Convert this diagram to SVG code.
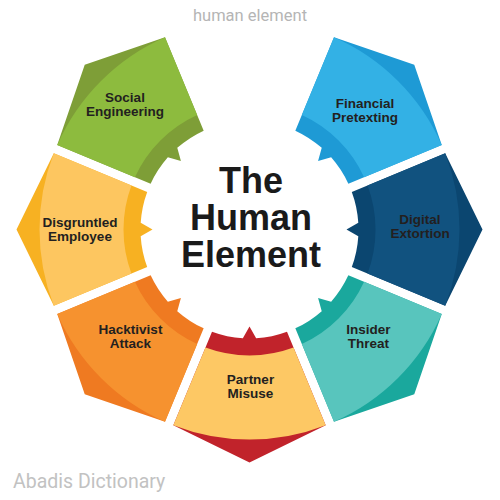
<svg xmlns="http://www.w3.org/2000/svg" xmlns:xlink="http://www.w3.org/1999/xlink" width="500" height="500" viewBox="0 0 500 500">
  <style>
    .lbl { font-family: "Liberation Sans", Arial, sans-serif; font-weight: bold; font-size: 13.5px; fill: #231f20; text-anchor: middle; }
    .title { font-family: "Liberation Sans", Arial, sans-serif; font-weight: bold; font-size: 36px; fill: #1a1a1a; text-anchor: middle; }
    .wm { font-family: Roboto, "Liberation Sans", sans-serif; }
  </style>
  <defs>
    <path id="seg" d="M 102.3,-37.5 L 195.7,-76.2 L 233,0 L 195.7,76.2 L 102.3,37.5 A 109 109 0 0 0 108.8,6.65 L 97,0 L 108.8,-6.65 A 109 109 0 0 0 102.3,-37.5 Z"/>
    <path id="segL" d="M 118.06,-44.03 L 195.7,-76.2 A 210 210 0 0 1 195.7,76.2 L 118.06,44.03 A 126 126 0 0 0 118.06,-44.03 Z"/>
  </defs>
  <rect width="500" height="500" fill="#ffffff"/>
  <text class="wm" x="250" y="21" font-size="16.5" fill="#b5b5b5" text-anchor="middle">human element</text>

  <g id="digital-extortion">
    <g transform="translate(249.5,229.5) rotate(0)">
      <use xlink:href="#seg" fill="#0b4670"/>
      <use xlink:href="#segL" fill="#11527f"/>
    </g>
    <text class="lbl" x="420" y="224">Digital</text>
    <text class="lbl" x="420" y="238">Extortion</text>
  </g>

  <g id="insider-threat">
    <g transform="translate(249.5,229.5) rotate(45)">
      <use xlink:href="#seg" fill="#1aa89d"/>
      <use xlink:href="#segL" fill="#58c5bd"/>
    </g>
    <text class="lbl" x="368.5" y="334">Insider</text>
    <text class="lbl" x="368.5" y="348">Threat</text>
  </g>

  <g id="partner-misuse">
    <g transform="translate(249.5,229.5) rotate(90)">
      <use xlink:href="#seg" fill="#c1232b"/>
      <use xlink:href="#segL" fill="#fdc864"/>
    </g>
    <text class="lbl" x="250.5" y="384">Partner</text>
    <text class="lbl" x="250.5" y="398">Misuse</text>
  </g>

  <g id="hacktivist-attack">
    <g transform="translate(249.5,229.5) rotate(135)">
      <use xlink:href="#seg" fill="#ef7a21"/>
      <use xlink:href="#segL" fill="#f6922f"/>
    </g>
    <text class="lbl" x="130.5" y="334">Hacktivist</text>
    <text class="lbl" x="130.5" y="348">Attack</text>
  </g>

  <g id="disgruntled-employee">
    <g transform="translate(249.5,229.5) rotate(180)">
      <use xlink:href="#seg" fill="#f7b122"/>
      <use xlink:href="#segL" fill="#fdc660"/>
    </g>
    <text class="lbl" x="80" y="227">Disgruntled</text>
    <text class="lbl" x="80" y="241">Employee</text>
  </g>

  <g id="social-engineering">
    <g transform="translate(249.5,229.5) rotate(225)">
      <use xlink:href="#seg" fill="#7e9e37"/>
      <use xlink:href="#segL" fill="#8dbb3e"/>
    </g>
    <text class="lbl" x="125" y="102">Social</text>
    <text class="lbl" x="125" y="116">Engineering</text>
  </g>

  <g id="financial-pretexting">
    <g transform="translate(249.5,229.5) rotate(315)">
      <use xlink:href="#seg" fill="#1e9ad5"/>
      <use xlink:href="#segL" fill="#33b1e5"/>
    </g>
    <text class="lbl" x="365" y="108">Financial</text>
    <text class="lbl" x="365" y="122">Pretexting</text>
  </g>

  <g id="center-title">
    <text class="title" x="251" y="193">The</text>
    <text class="title" x="251" y="230">Human</text>
    <text class="title" x="251" y="267">Element</text>
  </g>

  <text class="wm" x="13" y="488" font-size="19.5" fill="#c2c2c2">Abadis Dictionary</text>
</svg>
